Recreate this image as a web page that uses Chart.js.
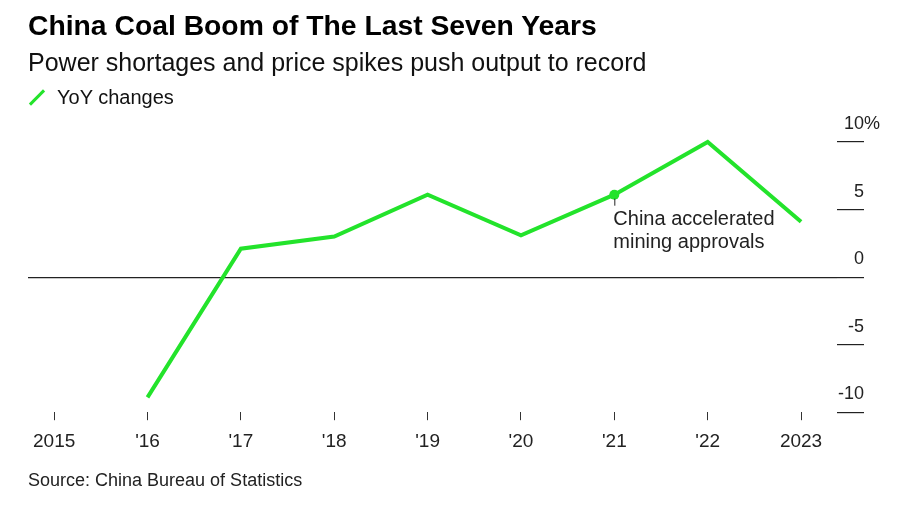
<!DOCTYPE html>
<html lang="en">
<head>
  <meta charset="UTF-8">
  <title>China Coal Boom of The Last Seven Years</title>
  <script src="https://cdn.jsdelivr.net/npm/chart.js"></script>
  <style>
    body { margin: 0; background: #fff; font-family: "Liberation Sans", Arial, sans-serif; color: #111; }
    #wrap { position: relative; width: 900px; height: 509px; overflow: hidden; }
    #myChart { position: absolute; left: 0; top: 0; }
    .txt { position: absolute; left: 28px; white-space: nowrap; line-height: 1.15; }
    #title { top: 9px; font-size: 28.3px; font-weight: bold; color: #000; }
    #subtitle { top: 48px; font-size: 25px; color: #111; }
    #legend { top: 86px; font-size: 20px; color: #111; }
    #legend .sw { display: inline-block; width: 20px; height: 3px; background: #23e32b;
                  transform: rotate(-45deg); vertical-align: middle; margin: 0 10px 3px -1px; }
    #source { top: 470px; font-size: 18px; color: #222; }
  </style>
</head>
<body>
<div id="wrap">
  <canvas id="myChart" width="900" height="509"></canvas>
  <div class="txt" id="title">China Coal Boom of The Last Seven Years</div>
  <div class="txt" id="subtitle">Power shortages and price spikes push output to record</div>
  <div class="txt" id="legend"><span class="sw"></span>YoY changes</div>
  <div class="txt" id="source">Source: China Bureau of Statistics</div>
</div>

<script>
  // data
  const years = [2015, 2016, 2017, 2018, 2019, 2020, 2021, 2022, 2023];
  const dataYears = [2016, 2017, 2018, 2019, 2020, 2021, 2022, 2023];
  const yoy = [-8.9, 2.1, 3.0, 6.1, 3.1, 6.1, 10.0, 4.1];
  const yTicks = [-10, -5, 0, 5, 10];
  const noteYear = 2021;
  const noteLines = ['China accelerated', 'mining approvals'];

  const green = '#23e32b';

  // y labels sit above the short tick marks, right-aligned on their ends
  const yLabelPlugin = {
    id: 'yLabels',
    afterDraw(chart) {
      const s = chart.scales.y;
      const c = chart.ctx;
      c.save();
      c.fillStyle = '#222';
      c.font = '18px "Liberation Sans", Arial, sans-serif';
      c.textAlign = 'right';
      c.textBaseline = 'middle';
      const xr = s.left + 27;
      yTicks.forEach(v => {
        const y = s.getPixelForValue(v) - 18;
        c.fillText(String(v), xr, y);
        if (v === yTicks[yTicks.length - 1]) {
          c.textAlign = 'left';
          c.fillText('%', xr, y);
          c.textAlign = 'right';
        }
      });
      c.restore();
    }
  };

  // annotation on the 2021 point
  const notePlugin = {
    id: 'note',
    afterDatasetsDraw(chart) {
      const meta = chart.getDatasetMeta(0);
      const pt = meta.data[dataYears.indexOf(noteYear)];
      const c = chart.ctx;
      c.save();
      c.fillStyle = green;
      c.beginPath();
      c.arc(pt.x, pt.y, 5, 0, Math.PI * 2);
      c.fill();
      c.strokeStyle = '#222';
      c.lineWidth = 1;
      c.beginPath();
      c.moveTo(pt.x + 0.5, pt.y + 4);
      c.lineTo(pt.x + 0.5, pt.y + 11);
      c.stroke();
      c.fillStyle = '#222';
      c.font = '20px "Liberation Sans", Arial, sans-serif';
      c.textBaseline = 'alphabetic';
      noteLines.forEach((s, i) => c.fillText(s, pt.x - 1, pt.y + 30 + i * 23));
      c.restore();
    }
  };

  new Chart(document.getElementById('myChart'), {
    type: 'line',
    data: {
      datasets: [{
        label: 'YoY changes',
        data: dataYears.map((x, i) => ({ x: x, y: yoy[i] })),
        borderColor: green,
        borderWidth: 4,
        pointRadius: 0,
        tension: 0,
        fill: false,
        clip: false
      }]
    },
    options: {
      responsive: false,
      animation: false,
      layout: { padding: { left: 28, right: 36, top: 142, bottom: 46 } },
      plugins: { legend: { display: false }, tooltip: { enabled: false } },
      scales: {
        x: {
          type: 'linear',
          min: 2014.72,
          max: 2023.385,
          afterBuildTicks: axis => { axis.ticks = years.map(v => ({ value: v })); },
          border: { display: false },
          grid: { drawOnChartArea: false, tickLength: 8, color: '#333', lineWidth: 1 },
          ticks: {
            autoSkip: false,
            maxRotation: 0,
            padding: 10,
            color: '#222',
            font: { family: '"Liberation Sans", Arial', size: 19 },
            callback: v => (v === 2015 || v === 2023) ? String(v) : "'" + String(v).slice(2)
          }
        },
        y: {
          position: 'right',
          min: -10,
          max: 10,
          afterBuildTicks: axis => { axis.ticks = yTicks.map(v => ({ value: v })); },
          border: { display: false },
          grid: {
            color: ctx => ctx.tick && ctx.tick.value === 0 ? '#222' : 'rgba(0,0,0,0)',
            tickColor: '#222',
            tickLength: 27,
            lineWidth: 1.2
          },
          ticks: { display: false }
        }
      }
    },
    plugins: [notePlugin, yLabelPlugin]
  });
</script>
</body>
</html>
